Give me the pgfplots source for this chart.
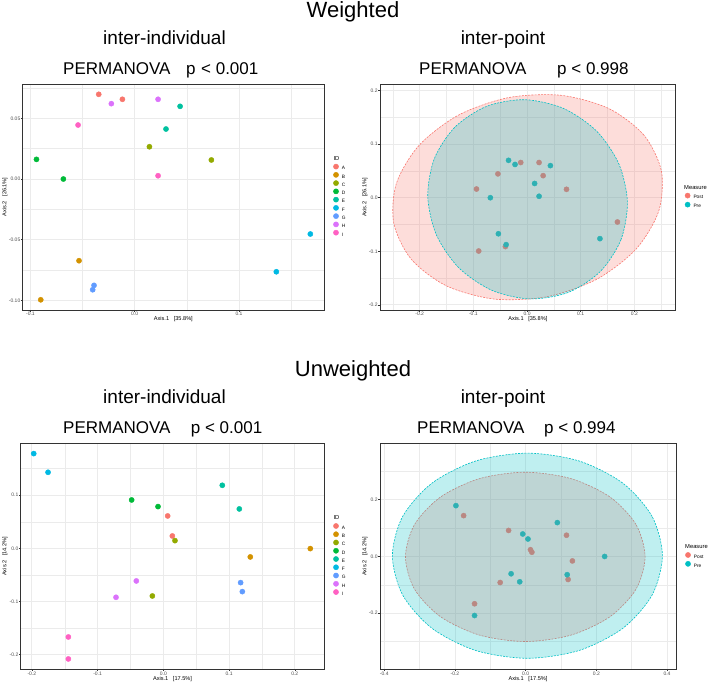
\documentclass[border=0pt]{standalone}
\usepackage{fontspec}
\setmainfont{Liberation Sans}
\usepackage{pgfplots}
\pgfplotsset{compat=1.18}

% ggplot hue palette
\definecolor{cA}{HTML}{F8766D}
\definecolor{cB}{HTML}{D39200}
\definecolor{cC}{HTML}{93AA00}
\definecolor{cD}{HTML}{00BA38}
\definecolor{cE}{HTML}{00C19F}
\definecolor{cF}{HTML}{00B9E3}
\definecolor{cG}{HTML}{619CFF}
\definecolor{cH}{HTML}{DB72FB}
\definecolor{cI}{HTML}{FF61C3}
\definecolor{cPost}{HTML}{F8766D}
\definecolor{cPre}{HTML}{00BFC4}
\definecolor{gborder}{HTML}{333333}
\definecolor{gtext}{HTML}{4D4D4D}
\definecolor{ggrid}{HTML}{EBEBEB}

\pgfplotsset{
  gg/.style={
    scale only axis, anchor=south west,
    axis line style={draw=gborder, line width=0.75pt},
    xmajorgrids, ymajorgrids, xminorgrids, yminorgrids,
    major grid style={draw=ggrid, line width=0.75pt},
    minor grid style={draw=ggrid, line width=0.4pt},
    tick align=outside, tick pos=left,
    major tick length=1.6pt, minor tick length=0pt,
    every tick/.style={draw=gborder, line width=0.5pt},
    tick label style={font=\fontsize{5}{6}\selectfont, text=gtext, inner sep=0.6pt},
    label style={font=\fontsize{5.6}{6.5}\selectfont, inner sep=0pt},
    xlabel style={at={(axis description cs:0.5,-0.042)}, anchor=center},
    legend style={draw=none, fill=none, inner sep=0pt, outer sep=0pt, anchor=north west,
      font=\fontsize{4.8}{5.5}\selectfont, column sep=2.8pt,
      nodes={inner sep=0.5pt, text depth=0pt}},
    legend cell align=left,
    legend image code/.code={\draw[mark repeat=2,mark phase=2,##1] plot coordinates {(0pt,1.7pt)(2.6pt,1.7pt)(5.2pt,1.7pt)};},
  },
  pts/.style={only marks, mark=*, mark size=2.6pt, color=#1},
  ell/.style={forget plot, smooth cycle, draw=#1, line width=0.6pt,
    dash pattern=on 2pt off 1.2pt, fill=#1, fill opacity=0.25},
}

\begin{document}
\begin{tikzpicture}
\useasboundingbox (0pt,0pt) rectangle (708pt,685pt);

% ---------- titles ----------
\node[inner sep=0pt, anchor=base, font=\fontsize{22}{26}\selectfont] at (353pt,667.5pt) {Weighted};
\node[inner sep=0pt, anchor=base, font=\fontsize{19}{23}\selectfont] at (164.5pt,640.5pt) {inter-individual};
\node[inner sep=0pt, anchor=base, font=\fontsize{19}{23}\selectfont] at (503pt,640.5pt) {inter-point};
\node[inner sep=0pt, anchor=base west, font=\fontsize{17}{20}\selectfont] at (63pt,610.5pt) {PERMANOVA};
\node[inner sep=0pt, anchor=base west, font=\fontsize{17}{20}\selectfont] at (186pt,610.5pt) {p\hspace{5.5pt}< 0.001};
\node[inner sep=0pt, anchor=base west, font=\fontsize{17}{20}\selectfont] at (419pt,610.5pt) {PERMANOVA};
\node[inner sep=0pt, anchor=base west, font=\fontsize{17}{20}\selectfont] at (557pt,610.5pt) {p < 0.998};

\node[inner sep=0pt, anchor=base, font=\fontsize{22}{26}\selectfont] at (353pt,308pt) {Unweighted};
\node[inner sep=0pt, anchor=base, font=\fontsize{19}{23}\selectfont] at (164.5pt,281pt) {inter-individual};
\node[inner sep=0pt, anchor=base, font=\fontsize{19}{23}\selectfont] at (503pt,281pt) {inter-point};
\node[inner sep=0pt, anchor=base west, font=\fontsize{17}{20}\selectfont] at (63pt,251pt) {PERMANOVA};
\node[inner sep=0pt, anchor=base west, font=\fontsize{17}{20}\selectfont] at (190.7pt,251pt) {p < 0.001};
\node[inner sep=0pt, anchor=base west, font=\fontsize{17}{20}\selectfont] at (417pt,251pt) {PERMANOVA};
\node[inner sep=0pt, anchor=base west, font=\fontsize{17}{20}\selectfont] at (544pt,251pt) {p < 0.994};

% legend titles
\node[inner sep=0pt, anchor=base west, font=\fontsize{5.8}{7}\selectfont] at (333.3pt,524.9pt) {ID};
\node[inner sep=0pt, anchor=base west, font=\fontsize{5.8}{7}\selectfont] at (684pt,495.6pt) {Measure};
\node[inner sep=0pt, anchor=base west, font=\fontsize{5.8}{7}\selectfont] at (333.3pt,165.9pt) {ID};
\node[inner sep=0pt, anchor=base west, font=\fontsize{5.8}{7}\selectfont] at (685pt,136.2pt) {Measure};

% ---------- weighted, inter-individual ----------
\begin{axis}[gg, at={(22.7pt,375pt)}, width=301.3pt, height=226pt,
  xmin=-0.1074, xmax=0.1815, ymin=-0.1079, ymax=0.0783,
  xtick={-0.1,0,0.1}, xticklabels={-0.1,0.0,0.1},
  ytick={-0.1,-0.05,0,0.05}, yticklabels={-0.10,-0.05,0.00,0.05},
  minor xtick={-0.05,0.05,0.15}, minor ytick={-0.075,-0.025,0.025,0.075},
  xlabel={Axis.1\ \ \ [35.8\%]}, ylabel={Axis.2\ \ \ [26.1\%]},
  ylabel style={at={(axis description cs:-0.0587,0.5)}, anchor=center},
  legend style={at={(axis description cs:1.0312,0.646)}, row sep=1.8pt}]
\addplot[pts=cA] coordinates {(-0.0345,0.0698) (-0.0118,0.0657)}; \addlegendentry{A}
\addplot[pts=cB] coordinates {(-0.0534,-0.0673) (-0.0901,-0.0995)}; \addlegendentry{B}
\addplot[pts=cC] coordinates {(0.0141,0.0266) (0.0735,0.0157)}; \addlegendentry{C}
\addplot[pts=cD] coordinates {(-0.0684,0.0000) (-0.0942,0.0162)}; \addlegendentry{D}
\addplot[pts=cE] coordinates {(0.0435,0.0599) (0.0300,0.0412)}; \addlegendentry{E}
\addplot[pts=cF] coordinates {(0.1358,-0.0764) (0.1684,-0.0453)}; \addlegendentry{F}
\addplot[pts=cG] coordinates {(-0.0390,-0.0876) (-0.0403,-0.0912)}; \addlegendentry{G}
\addplot[pts=cH] coordinates {(-0.0224,0.0621) (0.0224,0.0657)}; \addlegendentry{H}
\addplot[pts=cI] coordinates {(0.0224,0.0027) (-0.0543,0.0445)}; \addlegendentry{I}
\end{axis}

% ---------- weighted, inter-point ----------
\begin{axis}[gg, clip marker paths=true, at={(380pt,375pt)}, width=295.7pt, height=225.3pt,
  xmin=-0.274, xmax=0.277, ymin=-0.2096, ymax=0.211,
  xtick={-0.2,-0.1,0,0.1,0.2}, xticklabels={-0.2,-0.1,0.0,0.1,0.2},
  ytick={-0.2,-0.1,0,0.1,0.2}, yticklabels={-0.2,-0.1,0.0,0.1,0.2},
  minor xtick={-0.25,-0.15,-0.05,0.05,0.15,0.25}, minor ytick={-0.15,-0.05,0.05,0.15},
  xlabel={Axis.1\ \ \ [35.8\%]}, ylabel={Axis.2\ \ \ [26.1\%]},
  ylabel style={at={(axis description cs:-0.0507,0.5)}, anchor=center},
  legend style={at={(axis description cs:1.0315,0.5193)}, row sep=2.6pt}]
\addplot[pts=cPost] coordinates {(-0.0118,0.0657) (-0.0901,-0.0995) (0.0735,0.0157)
  (-0.0942,0.0162) (0.0300,0.0412) (0.1684,-0.0453) (-0.0403,-0.0912) (0.0224,0.0657) (-0.0543,0.0445)};
\addlegendentry{Post}
\addplot[pts=cPre] coordinates {(-0.0345,0.0698) (-0.0534,-0.0673) (0.0141,0.0266)
  (-0.0684,0.0000) (0.0435,0.0599) (0.1358,-0.0764) (-0.0390,-0.0876) (-0.0224,0.0621) (0.0224,0.0027)};
\addlegendentry{Pre}
\addplot[ell=cPost] coordinates {(0.2504,0.0495) (0.2177,0.1169) (0.1519,0.1667) (0.0630,0.1912)
  (-0.0351,0.1868) (-0.1278,0.1542) (-0.2009,0.0981) (-0.2433,0.0273) (-0.2484,-0.0475)
  (-0.2157,-0.1149) (-0.1499,-0.1647) (-0.0610,-0.1892) (0.0371,-0.1848) (0.1298,-0.1522)
  (0.2029,-0.0961) (0.2453,-0.0253)};
\addplot[ell=cPre] coordinates {(0.1361,-0.1381) (0.1748,-0.0788) (0.1870,-0.0080) (0.1709,0.0635)
  (0.1290,0.1250) (0.0675,0.1669) (-0.0040,0.1830) (-0.0748,0.1708) (-0.1341,0.1321)
  (-0.1728,0.0728) (-0.1850,0.0020) (-0.1689,-0.0695) (-0.1270,-0.1310) (-0.0655,-0.1729)
  (0.0060,-0.1890) (0.0768,-0.1768)};
\end{axis}

% ---------- unweighted, inter-individual ----------
\begin{axis}[gg, at={(20.7pt,15.7pt)}, width=303.6pt, height=226pt,
  xmin=-0.217, xmax=0.2449, ymin=-0.2279, ymax=0.1977,
  xtick={-0.2,-0.1,0,0.1,0.2}, xticklabels={-0.2,-0.1,0.0,0.1,0.2},
  ytick={-0.2,-0.1,0,0.1}, yticklabels={-0.2,-0.1,0.0,0.1},
  minor xtick={-0.15,-0.05,0.05,0.15}, minor ytick={-0.15,-0.05,0.05,0.15},
  xlabel={Axis.1\ \ \ [17.5\%]}, ylabel={Axis.2\ \ \ [14.2\%]},
  ylabel style={at={(axis description cs:-0.0517,0.5)}, anchor=center},
  legend style={at={(axis description cs:1.030,0.6456)}, row sep=1.8pt}]
\addplot[pts=cA] coordinates {(0.0066,0.0609) (0.0137,0.0232)}; \addlegendentry{A}
\addplot[pts=cB] coordinates {(0.2236,-0.0006) (0.1323,-0.0163)}; \addlegendentry{B}
\addplot[pts=cC] coordinates {(-0.0167,-0.0898) (0.0177,0.0144)}; \addlegendentry{C}
\addplot[pts=cD] coordinates {(-0.0081,0.0785) (-0.0482,0.0910)}; \addlegendentry{D}
\addplot[pts=cE] coordinates {(0.0897,0.1186) (0.1156,0.0741)}; \addlegendentry{E}
\addplot[pts=cF] coordinates {(-0.1972,0.1783) (-0.1754,0.1431)}; \addlegendentry{F}
\addplot[pts=cG] coordinates {(0.1176,-0.0647) (0.1202,-0.0816)}; \addlegendentry{G}
\addplot[pts=cH] coordinates {(-0.0411,-0.0615) (-0.0720,-0.0923)}; \addlegendentry{H}
\addplot[pts=cI] coordinates {(-0.1445,-0.2084) (-0.1445,-0.1670)}; \addlegendentry{I}
\end{axis}

% ---------- unweighted, inter-point ----------
\begin{axis}[gg, clip marker paths=true, at={(380pt,15.7pt)}, width=296pt, height=226pt,
  xmin=-0.412, xmax=0.4255, ymin=-0.3977, ymax=0.3977,
  xtick={-0.4,-0.2,0,0.2,0.4}, xticklabels={-0.4,-0.2,0.0,0.2,0.4},
  ytick={-0.2,0,0.2}, yticklabels={-0.2,0.0,0.2},
  minor xtick={-0.3,-0.1,0.1,0.3}, minor ytick={-0.3,-0.1,0.1,0.3},
  xlabel={Axis.1\ \ \ [17.5\%]}, ylabel={Axis.2\ \ \ [14.2\%]},
  ylabel style={at={(axis description cs:-0.0507,0.5)}, anchor=center},
  legend style={at={(axis description cs:1.0318,0.5173)}, row sep=2.4pt}]
\addplot[pts=cPost] coordinates {(0.0137,0.0232) (0.1323,-0.0163) (0.0177,0.0144)
  (-0.0482,0.0910) (0.1156,0.0741) (-0.1754,0.1431) (0.1202,-0.0816) (-0.0720,-0.0923) (-0.1445,-0.1670)};
\addlegendentry{Post}
\addplot[pts=cPre] coordinates {(0.0066,0.0609) (0.2236,-0.0006) (-0.0167,-0.0898)
  (-0.0081,0.0785) (0.0897,0.1186) (-0.1972,0.1783) (0.1176,-0.0647) (-0.0411,-0.0615) (-0.1445,-0.2084)};
\addlegendentry{Pre}
\addplot[ell=cPost] coordinates {(0.3380,-0.0020) (0.3122,0.1120) (0.2387,0.2087) (0.1287,0.2733)
  (-0.0010,0.2960) (-0.1307,0.2733) (-0.2407,0.2087) (-0.3142,0.1120) (-0.3400,-0.0020)
  (-0.3142,-0.1160) (-0.2407,-0.2127) (-0.1307,-0.2773) (-0.0010,-0.3000) (0.1287,-0.2773)
  (0.2387,-0.2127) (0.3122,-0.1160)};
\addplot[ell=cPre] coordinates {(0.3870,0.0020) (0.3579,0.1402) (0.2751,0.2573) (0.1512,0.3355)
  (0.0050,0.3630) (-0.1412,0.3355) (-0.2651,0.2573) (-0.3479,0.1402) (-0.3770,0.0020)
  (-0.3479,-0.1362) (-0.2651,-0.2533) (-0.1412,-0.3315) (0.0050,-0.3590) (0.1512,-0.3315)
  (0.2751,-0.2533) (0.3579,-0.1362)};
\end{axis}
\end{tikzpicture}
\end{document}
